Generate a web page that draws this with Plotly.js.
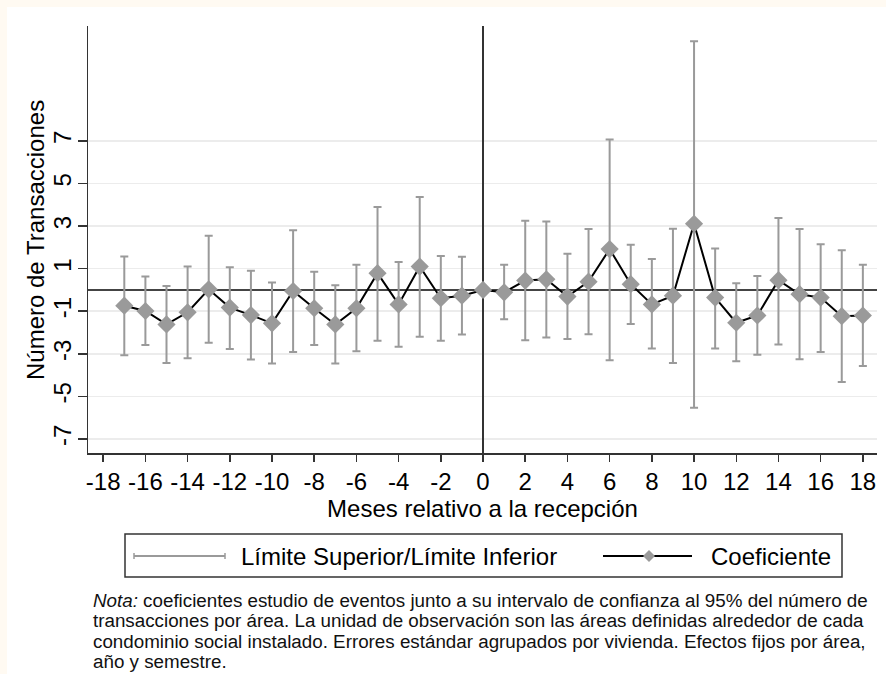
<!DOCTYPE html>
<html><head><meta charset="utf-8">
<script src="https://cdn.plot.ly/plotly-3.0.1.min.js"></script>
<style>
html,body{margin:0;padding:0;background:#fffaf2;}
#chart{position:absolute;left:7px;top:7px;width:879px;height:667px;background:#fff;}
</style>
</head><body><div id="chart"></div><script>
// ---- data ----
const months = [-17,-16,-15,-14,-13,-12,-11,-10,-9,-8,-7,-6,-5,-4,-3,-2,-1,0,1,2,3,4,5,6,7,8,9,10,11,12,13,14,15,16,17,18];
const coef  = [-0.74,-0.99,-1.62,-1.05,0.03,-0.83,-1.18,-1.57,-0.05,-0.86,-1.62,-0.86,0.79,-0.68,1.10,-0.39,-0.27,0,-0.11,0.44,0.50,-0.31,0.39,1.92,0.27,-0.68,-0.27,3.11,-0.36,-1.54,-1.20,0.46,-0.20,-0.36,-1.23,-1.20];
const upper = [1.57,0.63,0.19,1.10,2.55,1.07,0.90,0.35,2.80,0.86,0.22,1.18,3.90,1.31,4.37,1.60,1.56,null,1.18,3.25,3.22,1.70,2.86,7.07,2.12,1.45,2.88,11.68,1.95,0.31,0.66,3.38,2.86,2.15,1.87,1.18];
const lower = [-3.07,-2.59,-3.43,-3.21,-2.48,-2.77,-3.27,-3.46,-2.91,-2.59,-3.46,-2.88,-2.39,-2.67,-2.20,-2.39,-2.09,null,-1.38,-2.36,-2.23,-2.31,-2.08,-3.30,-1.60,-2.75,-3.43,-5.53,-2.75,-3.35,-3.05,-2.56,-3.25,-2.91,-4.33,-3.57];
const xTickVals = [-18,-16,-14,-12,-10,-8,-6,-4,-2,0,2,4,6,8,10,12,14,16,18];
const xTickText = ['-18','-16','-14','-12','-10','-8','-6','-4','-2','0','2','4','6','8','10','12','14','16','18'];
const yTickVals = [-7,-5,-3,-1,1,3,5,7];
const yTickText = ['-7','-5','-3','-1','1','3','5','7'];
const xTitle = 'Meses relativo a la recepción';
const yTitle = 'Número de Transacciones';
const legendCI = 'Límite Superior/Límite Inferior';
const legendCoef = 'Coeficiente';
const noteLines = [
  '<i>Nota:</i> coeficientes estudio de eventos junto a su intervalo de confianza al 95% del número de',
  'transacciones por área. La unidad de observación son las áreas definidas alrededor de cada',
  'condominio social instalado. Errores estándar agrupados por vivienda. Efectos fijos por área,',
  'año y semestre.'
];

// ---- layout helpers (absolute page px -> paper coords) ----
const OFF = 7;
const M = {l: 81, t: 19, r: 9, b: 221};
const W = 879, H = 667;
const PW = W - M.l - M.r, PH = H - M.t - M.b;
const px = X => (X - OFF - M.l) / PW;
const py = Y => (H - M.b - (Y - OFF)) / PH;

const errPlus = upper.map((u, i) => u === null ? NaN : u - coef[i]);
const errMinus = lower.map((l, i) => l === null ? NaN : coef[i] - l);

const FONT = '"Liberation Sans", Arial, sans-serif';
const GRAY = '#9a9a9a';

const traces = [
  {
    x: months, y: coef, type: 'scatter', mode: 'markers',
    marker: {size: 1, opacity: 0, color: GRAY},
    error_y: {type: 'data', symmetric: false, array: errPlus, arrayminus: errMinus,
              color: GRAY, thickness: 2, width: 4},
    showlegend: false, hoverinfo: 'skip'
  },
  {
    x: months, y: coef, type: 'scatter', mode: 'lines+markers',
    line: {color: '#000', width: 2},
    marker: {symbol: 'diamond', size: 14, color: GRAY},
    showlegend: false
  }
];

// legend drawn by hand
const LY = 556;
const shapes = [
  {type: 'rect', xref: 'paper', yref: 'paper', x0: px(125), x1: px(842), y0: py(577), y1: py(534),
   line: {color: '#333', width: 1.5}, fillcolor: 'rgba(0,0,0,0)'},
  {type: 'line', xref: 'paper', yref: 'paper', x0: px(134), x1: px(225), y0: py(LY), y1: py(LY), line: {color: GRAY, width: 2}},
  {type: 'line', xref: 'paper', yref: 'paper', x0: px(134), x1: px(134), y0: py(LY-3), y1: py(LY+3), line: {color: GRAY, width: 1.5}},
  {type: 'line', xref: 'paper', yref: 'paper', x0: px(225), x1: px(225), y0: py(LY-3), y1: py(LY+3), line: {color: GRAY, width: 1.5}},
  {type: 'line', xref: 'paper', yref: 'paper', x0: px(603), x1: px(692), y0: py(LY), y1: py(LY), line: {color: '#000', width: 2}},
  {type: 'path', xref: 'paper', yref: 'paper',
   path: `M ${px(643)} ${py(LY)} L ${px(649)} ${py(LY-6)} L ${px(655)} ${py(LY)} L ${px(649)} ${py(LY+6)} Z`,
   fillcolor: GRAY, line: {width: 0}}
];

const annotations = [
  {xref: 'paper', yref: 'paper', x: px(239), y: py(LY), xanchor: 'left', yanchor: 'middle', showarrow: false,
   text: legendCI, font: {family: FONT, size: 24, color: '#000'}},
  {xref: 'paper', yref: 'paper', x: px(709), y: py(LY), xanchor: 'left', yanchor: 'middle', showarrow: false,
   text: legendCoef, font: {family: FONT, size: 24, color: '#000'}},
  {xref: 'paper', yref: 'paper', x: px(35), y: py(240), xanchor: 'center', yanchor: 'middle', showarrow: false,
   textangle: -90, text: yTitle, font: {family: FONT, size: 24, color: '#000'}}
];
const noteY = [600, 620.5, 641, 661];
noteLines.forEach((t, i) => annotations.push({
  xref: 'paper', yref: 'paper', x: px(91), y: py(noteY[i]), xanchor: 'left', yanchor: 'middle',
  align: 'left', showarrow: false, text: t, font: {family: FONT, size: 18.8, color: '#111'}
}));

const layout = {
  width: W, height: H,
  margin: M,
  paper_bgcolor: '#fff', plot_bgcolor: '#fff',
  font: {family: FONT, size: 24, color: '#000'},
  showlegend: false,
  xaxis: {
    range: [-18.72, 18.67], tickmode: 'array', tickvals: xTickVals, ticktext: xTickText,
    ticks: 'outside', ticklen: 7, tickwidth: 1.5, tickcolor: '#333',
    showline: true, linecolor: '#333', linewidth: 1.5, mirror: false,
    showgrid: false, zeroline: true, zerolinecolor: '#333', zerolinewidth: 1.5,
    tickfont: {family: FONT, size: 24, color: '#000'},
    title: {text: xTitle, font: {family: FONT, size: 24, color: '#000'}, standoff: 1},
    automargin: false
  },
  yaxis: {
    range: [-7.66, 12.40], tickmode: 'array', tickvals: yTickVals, ticktext: yTickText,
    ticks: 'outside', ticklen: 9, tickwidth: 1.5, tickcolor: '#333', tickangle: -90,
    ticklabelstandoff: -3,
    showline: true, linecolor: '#333', linewidth: 1.5, mirror: false,
    showgrid: true, gridcolor: '#ececec', gridwidth: 1.5,
    zeroline: true, zerolinecolor: '#444', zerolinewidth: 2,
    tickfont: {family: FONT, size: 24, color: '#000'},
    automargin: false
  },
  shapes: shapes,
  annotations: annotations
};

Plotly.newPlot('chart', traces, layout, {displayModeBar: false, staticPlot: true});
</script></body></html>
